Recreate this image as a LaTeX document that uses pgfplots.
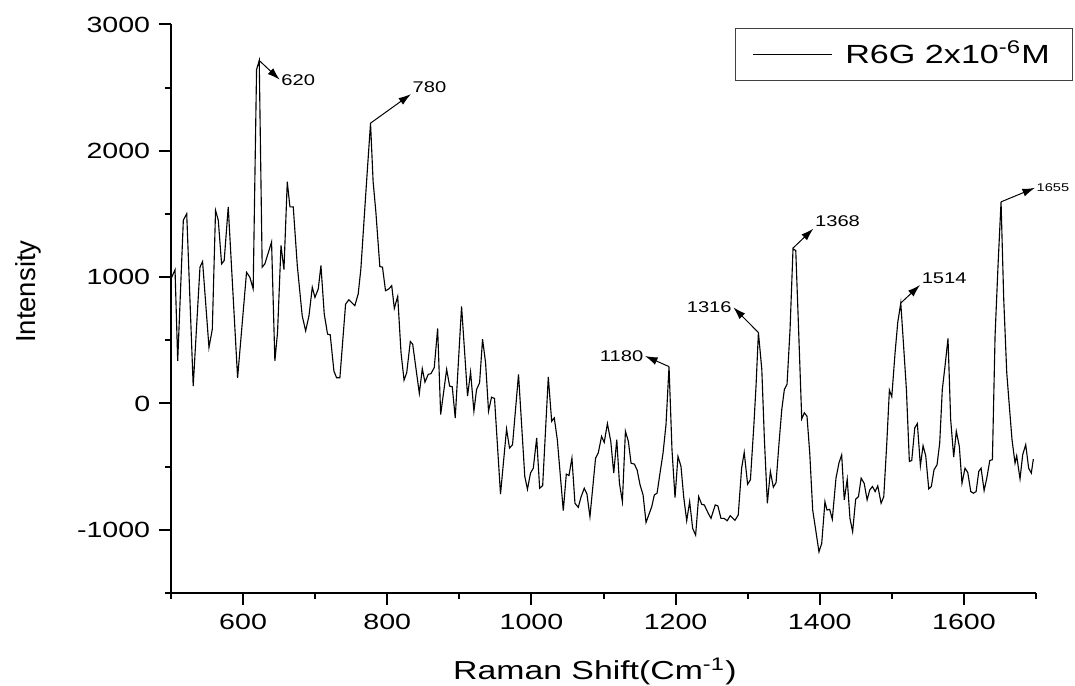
\documentclass[border=0pt]{standalone}
\usepackage{pgfplots}
\pgfplotsset{compat=1.18}
\usepackage{fontspec}
\setmainfont[FakeStretch=1.3]{Liberation Sans}
\newfontfamily\plainsans{Liberation Sans}
\usetikzlibrary{arrows.meta}
\pgfplotstableread{
x y
500 986
505.6 1058
509.3 337
517.1 1450
521.8 1503
530.8 138
540.2 1079
543.8 1124
552.7 443
557.3 588
561.8 1529
565.6 1450
570.2 1105
573.8 1132
579.4 1556
592.4 204
604.8 1039
609.4 999
614 907
618.7 2643
622.4 2715
626.5 1079
630.2 1105
639.5 1278
644.1 337
647.8 562
652.6 1251
656.7 1060
661.3 1755
665 1556
669.6 1556
675.2 1092
682 694
686.8 575
691.4 694
696 920
699.7 840
704.3 907
708 1092
712.6 708
717.2 549
720.9 543
726 257
729.7 204
734.3 204
742.2 787
746.8 821
755 774
759.7 867
763.4 1066
771.3 1755
776.8 2219
780.4 1755
784.2 1516
789.7 1084
793.4 1079
797.6 893
802.2 907
806.2 933
809.8 753
814.5 848
819.1 403
823.3 185
827 244
832 491
835.3 469
844.5 80
848.6 276
852.3 169
856.9 231
860.6 236
865.2 284
869.9 594
874.1 -87
882.4 270
886.5 138
890.2 132
894.3 -115
903.1 769
911.4 58
915.6 249
920.2 -61
923.9 111
928.1 164
932.2 509
936.4 323
940.5 -61
944.7 50
948.8 40
957.1 -718
965.5 -202
969.6 -353
973.8 -326
982.1 231
990.8 -578
994.5 -679
998.7 -551
1002.6 -512
1007.3 -273
1011.4 -671
1015.6 -650
1023.4 210
1028.1 -141
1031.7 -114
1035.9 -286
1044.2 -848
1048.4 -559
1052.1 -570
1056.2 -432
1060.4 -790
1065 -822
1068.7 -742
1073.3 -671
1077 -716
1081.2 -896
1089 -432
1092.7 -392
1097.3 -260
1101 -308
1105.4 -159
1110.1 -300
1114.2 -551
1118.4 -286
1122.1 -631
1126.2 -777
1130.4 -220
1134.5 -300
1138.2 -472
1142.8 -480
1146.6 -525
1150.7 -644
1154.9 -724
1159 -941
1162.7 -883
1166.9 -817
1170.5 -724
1174.3 -710
1178.4 -551
1182.6 -392
1186.7 -167
1190.9 292
1195 -366
1199.2 -745
1203.3 -419
1207.5 -498
1211.2 -737
1215.4 -928
1219.5 -777
1223.7 -989
1227.8 -1042
1232 -737
1236.2 -798
1239.8 -803
1245.3 -869
1249.1 -909
1255 -803
1258.7 -811
1262.9 -909
1267.1 -909
1271.6 -928
1275.8 -888
1282.3 -925
1286.9 -883
1291.6 -512
1295.2 -387
1299.9 -639
1303.8 -604
1308.5 -180
1311.7 151
1314.9 562
1319.6 270
1323.2 -286
1327.3 -790
1331.5 -538
1335.6 -663
1339.4 -626
1343.5 -313
1347.3 -48
1350.9 111
1354.6 151
1358.8 588
1362.9 1225
1366.7 1211
1370.3 642
1375 -122
1378.6 -74
1382.3 -101
1386.1 -392
1390.2 -843
1394.4 -1002
1398.9 -1174
1402.7 -1108
1407.2 -777
1410 -843
1413.8 -838
1417.4 -917
1422.5 -591
1426.6 -472
1430.4 -406
1434 -763
1438.1 -599
1441.9 -909
1445.6 -1015
1449.8 -758
1453.7 -737
1457.4 -591
1461.6 -631
1465.7 -763
1469.4 -684
1473.1 -657
1476.8 -697
1480.5 -652
1485.1 -790
1488.8 -737
1493 -313
1496.6 106
1499.9 53
1504.5 403
1508.2 642
1512.4 795
1516 483
1520.2 111
1524.3 -459
1527.6 -451
1531.8 -193
1535.4 -159
1539.6 -493
1543.3 -334
1547 -414
1551.2 -676
1554.8 -657
1558.5 -525
1562.7 -485
1566.4 -313
1570 111
1573.8 297
1577.9 515
1581.6 -127
1585.8 -424
1589.4 -220
1593.6 -339
1597.3 -631
1601.5 -512
1605.3 -546
1609.5 -697
1613.1 -710
1616.9 -697
1620.6 -538
1623.8 -512
1628 -689
1631.7 -591
1635.9 -451
1639.5 -445
1643.2 535
1647.4 1105
1651.5 1596
1655.2 827
1659.4 244
1663 -21
1666.7 -286
1670.9 -472
1673.2 -414
1677.8 -596
1681.5 -406
1685.7 -326
1689.8 -512
1693.5 -551
1696.3 -440
}\spectrum
\begin{document}
\begin{tikzpicture}
\begin{axis}[
  name=ax,
  scale only axis,
  width=346pt, height=227.4pt,
  xmin=500, xmax=1700, ymin=-1500, ymax=3000,
  axis lines*=left,
  axis line style={line width=0.8pt, black},
  clip=false,
  xtick={600,800,...,1600},
  minor xtick={500,700,...,1700},
  ytick={-1000,0,...,3000},
  minor ytick={-1500,-500,...,2500},
  tick align=outside,
  major tick length=4.8pt,
  minor tick length=2.4pt,
  every tick/.style={line width=0.8pt, black},
  /pgf/number format/assume math mode=true,
  /pgf/number format/set thousands separator={},
  ticklabel style={font=\fontsize{8.8}{10}\selectfont},
  xlabel={Raman Shift(Cm\textsuperscript{-1})},
  ylabel={Intensity},
  xlabel style={font=\fontsize{10.4}{12}\selectfont, at={(axis description cs:0.49,-0.153)}, anchor=base},
  ylabel style={font=\plainsans\fontsize{11}{13}\selectfont, at={(axis description cs:-0.157,0.53)}, anchor=base},
  legend style={at={(1.0428,0.9938)}, anchor=north east, draw=black!75, line width=0.5pt,
    inner xsep=7pt, inner ysep=3pt, font=\fontsize{10.5}{12}\selectfont, legend cell align=left,
    /tikz/every odd column/.append style={column sep=3pt}},
  legend image code/.code={\draw[#1] (0pt,0pt) -- (31.6pt,0pt);},
]
\addplot[black, line width=0.45pt, mark=none] table[x=x, y=y] {\spectrum};
\addlegendentry{R6G 2x10\textsuperscript{-6}M}
\begin{scope}[line width=0.4pt, -{Latex[length=5pt,width=3.2pt]}, every node/.style={font=\fontsize{6.2}{7}\selectfont, inner sep=0.5pt}]
\draw (axis cs:622.4,2715) -- (axis cs:650.8,2563) node[anchor=west] {620};
\draw (axis cs:776.8,2219) -- (axis cs:832.9,2449) node[anchor=south west] {780};
\draw (axis cs:1190.9,292) -- (axis cs:1157.6,376) node[anchor=east] {1180};
\draw (axis cs:1314.9,562) -- (axis cs:1280.2,761) node[anchor=east] {1316};
\draw (axis cs:1362.9,1230) -- (axis cs:1391.1,1384) node[anchor=south west] {1368};
\draw (axis cs:1512.4,795) -- (axis cs:1539.1,938) node[anchor=south west] {1514};
\draw (axis cs:1651.5,1596) -- (axis cs:1698.5,1707) node[anchor=west, font=\fontsize{4.5}{5}\selectfont] {1655};
\end{scope}
\end{axis}
\pgfresetboundingbox
\path[use as bounding box] ([shift={(-68.4pt,-37.2pt)}]ax.south west) rectangle ([shift={(15.6pt,9.8pt)}]ax.north east);
\end{tikzpicture}
\end{document}
